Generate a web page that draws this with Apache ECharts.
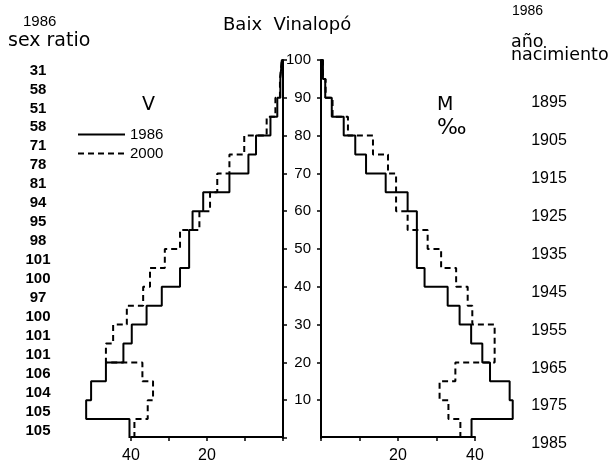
<!DOCTYPE html>
<html>
<head>
<meta charset="utf-8">
<script src="https://cdn.jsdelivr.net/npm/echarts@6/dist/echarts.min.js"></script>
<style>
html, body { margin: 0; padding: 0; background: #fff; }
#chart { width: 611px; height: 464px; }
</style>
</head>
<body>
<div id="chart"></div>
<script>
// age groups 0-4 ... 95-99, from bottom to top, values in per mille
var ageStarts = [0, 5, 10, 15, 20, 25, 30, 35, 40, 45, 50, 55, 60, 65, 70, 75, 80, 85, 90, 95];
var men1986 = [40.4, 51.8, 50.5, 46.6, 42.0, 39.8, 35.9, 31.9, 27.1, 24.7, 24.7, 23.8, 21.0, 14.1, 9.1, 7.1, 3.3, 1.5, 0.7, 0.3];
var men2000 = [39.1, 35.6, 34.2, 37.0, 46.6, 44.7, 41.1, 36.8, 35.0, 31.1, 27.1, 22.0, 19.2, 17.3, 14.1, 10.2, 4.3, 2.0, 0.8, 0.3];
var women1986 = [39.1, 49.8, 49.0, 43.9, 41.9, 39.0, 36.0, 32.9, 26.9, 24.9, 24.9, 24.9, 22.5, 16.8, 11.7, 8.9, 5.9, 2.8, 1.1, 0.5];
var women2000 = [36.2, 33.1, 30.8, 34.9, 45.1, 45.1, 39.3, 38.1, 35.1, 31.2, 27.7, 22.5, 19.5, 19.5, 17.4, 13.5, 7.0, 3.0, 1.2, 0.5];
// sex ratio 1986 per age group (bottom to top)
var sexRatio1986 = ['105', '105', '104', '106', '101', '101', '100', '97', '100', '101', '98', '95', '94', '81', '78', '71', '58', '51', '58', '31'];
// birth year labels (bottom to top)
var birthYears = ['1985', '1975', '1965', '1955', '1945', '1935', '1925', '1915', '1905', '1895'];
var valueLabels = [20, 40];

var NUM_FONT = 'Liberation Sans';
var TXT_FONT = 'DejaVu Sans';

// step outline of a pyramid side: each age group is a vertical segment
function steps(values) {
  var pts = [];
  for (var i = 0; i < values.length; i++) {
    pts.push([values[i], ageStarts[i]]);
    pts.push([values[i], ageStarts[i] + 5]);
  }
  pts.push([0, 100]);
  return pts;
}

var axisLineStyle = { color: '#000', width: 2 };

// visible bottom axis, 0..40 only
function valueXAxis(grid, inverse) {
  return {
    gridIndex: grid, type: 'value', inverse: inverse,
    min: 0, max: 40, interval: 10,
    axisLine: { show: true, onZero: false, lineStyle: axisLineStyle },
    axisTick: { show: true, length: 4, lineStyle: { color: '#000', width: 1.5 } },
    axisLabel: {
      margin: 11, color: '#000', fontSize: 16, fontFamily: NUM_FONT,
      formatter: function (v) { return valueLabels.indexOf(v) >= 0 ? String(v) : ''; }
    },
    splitLine: { show: false }
  };
}

// hidden axis the outlines are drawn on (same scale, wider range)
function dataXAxis(grid, inverse) {
  return { gridIndex: grid, type: 'value', inverse: inverse, min: 0, max: 60, show: false };
}

function ageYAxis(grid, pos, labels) {
  return {
    gridIndex: grid, type: 'value', min: 0, max: 100, interval: 10, position: pos,
    axisLine: { show: true, lineStyle: axisLineStyle },
    axisTick: { show: true, length: 4, lineStyle: { color: '#000', width: 1.5 } },
    axisLabel: {
      show: labels, showMinLabel: false, margin: 10,
      color: '#000', fontSize: 15, fontFamily: NUM_FONT
    },
    splitLine: { show: false }
  };
}

function labelYAxis(grid, data, margin, bold) {
  return {
    gridIndex: grid, type: 'category', data: data,
    axisLine: { show: false }, axisTick: { show: false },
    axisLabel: {
      interval: 0, align: 'center', margin: margin,
      color: '#000', fontSize: bold ? 15 : 16, fontWeight: bold ? 'bold' : 'normal', fontFamily: NUM_FONT
    }
  };
}

function sideSeries(name, values, xi, dashed) {
  return {
    name: name, type: 'line', xAxisIndex: xi, yAxisIndex: xi,
    data: steps(values), symbol: 'none',
    lineStyle: { color: '#000', width: 2, type: dashed ? [6, 4] : 'solid' },
    itemStyle: { color: '#000' }
  };
}

function label(text, left, top, size, font) {
  return {
    text: text, left: left, top: top, padding: 0,
    textStyle: { color: '#000', fontSize: size, fontWeight: 'normal', fontFamily: font }
  };
}

var chart = echarts.init(document.getElementById('chart'));
chart.setOption({
  backgroundColor: '#fff',
  animation: false,
  title: [
    label('Baix  Vinalopó', 223, 16, 18, TXT_FONT),
    label('1986', 23, 14, 15, NUM_FONT),
    label('sex ratio', 8, 32, 19, TXT_FONT),
    label('1986', 512, 4, 14, NUM_FONT),
    label('año', 511, 33, 17.5, TXT_FONT),
    label('nacimiento', 511, 46, 17.5, TXT_FONT),
    label('V', 142, 96, 19, TXT_FONT),
    label('M', 437, 96, 19, TXT_FONT),
    label('‰', 437, 117, 22, TXT_FONT)
  ],
  legend: {
    data: ['1986', '2000'], orient: 'vertical', left: 77, top: 127,
    itemWidth: 47, itemHeight: 12, itemGap: 4, padding: 0,
    selectedMode: false,
    itemStyle: { opacity: 0 },
    textStyle: { color: '#000', fontSize: 15, fontFamily: NUM_FONT }
  },
  grid: [
    { left: 55, right: 328, top: 60, bottom: 26 },   // men outline, 0..60
    { left: 321, right: 59, top: 60, bottom: 26 },   // women outline, 0..60
    { left: 60, width: 10, top: 61, bottom: 24 },    // sex ratio labels
    { left: 570, width: 10, top: 83.5, bottom: 1 },  // birth year labels
    { left: 131, right: 328, top: 60, bottom: 26 },  // men bottom axis
    { left: 321, right: 136, top: 60, bottom: 26 }   // women bottom axis
  ],
  xAxis: [
    dataXAxis(0, true),
    dataXAxis(1, false),
    { gridIndex: 2, type: 'value', show: false },
    { gridIndex: 3, type: 'value', show: false },
    valueXAxis(4, true),
    valueXAxis(5, false)
  ],
  yAxis: [
    ageYAxis(0, 'right', false),
    ageYAxis(1, 'left', true),
    labelYAxis(2, sexRatio1986, 22, true),
    labelYAxis(3, birthYears, 21, false),
    { gridIndex: 4, type: 'value', min: 0, max: 100, show: false },
    { gridIndex: 5, type: 'value', min: 0, max: 100, show: false }
  ],
  series: [
    sideSeries('1986', men1986, 0, false),
    sideSeries('2000', men2000, 0, true),
    sideSeries('1986', women1986, 1, false),
    sideSeries('2000', women2000, 1, true)
  ]
});
</script>
</body>
</html>
